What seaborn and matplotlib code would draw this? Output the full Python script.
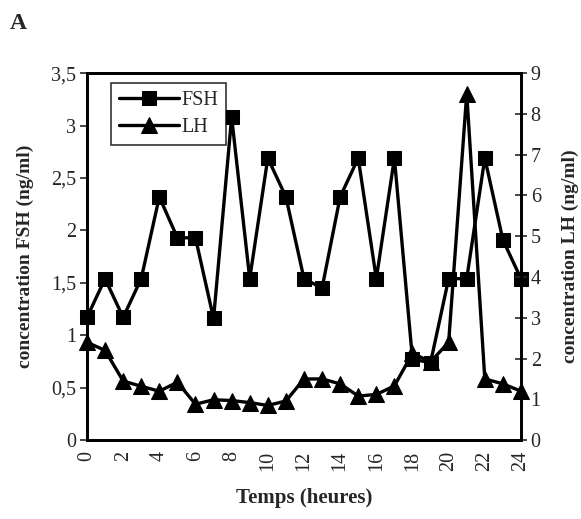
import matplotlib
matplotlib.use("Agg")
import matplotlib.pyplot as plt
import seaborn as sns
import pandas as pd

hours = list(range(25))
fsh = [1.17, 1.54, 1.17, 1.54, 2.32, 1.93, 1.93, 1.16, 3.08, 1.54, 2.69, 2.32, 1.54,
       1.45, 2.32, 2.69, 1.54, 2.69, 0.77, 0.74, 1.54, 1.54, 2.69, 1.91, 1.54]
lh = [2.4, 2.2, 1.45, 1.32, 1.2, 1.42, 0.88, 0.99, 0.97, 0.92, 0.85, 0.96, 1.5,
      1.5, 1.38, 1.08, 1.12, 1.33, 2.13, 1.92, 2.4, 8.5, 1.5, 1.38, 1.2]

fsh_ticks = [0, 0.5, 1, 1.5, 2, 2.5, 3, 3.5]
fsh_ticklabels = ["0", "0,5", "1", "1,5", "2", "2,5", "3", "3,5"]
lh_ticks = list(range(10))
x_ticks = list(range(0, 25, 2))

df = pd.DataFrame({"Temps": hours, "FSH": fsh, "LH": lh})

sns.set_style("white")
plt.rcParams["font.family"] = ["Liberation Serif", "DejaVu Serif"]

fig = plt.figure(figsize=(5.81, 5.19), dpi=100)
ax = fig.add_axes([0.1497, 0.152, 0.747, 0.707])
ax2 = ax.twinx()

sns.lineplot(data=df, x="Temps", y="FSH", ax=ax, color="black", marker="s",
             markersize=10, linewidth=2.4, markeredgecolor="black", label="FSH",
             legend=False, clip_on=False)
sns.lineplot(data=df, x="Temps", y="LH", ax=ax2, color="black", marker="^",
             markersize=11.5, linewidth=2.4, markeredgecolor="black", label="LH",
             legend=False, clip_on=False)

ax.set_xlim(0, 24)
ax.set_ylim(0, 3.5)
ax2.set_ylim(0, 9)

ax.set_xticks(x_ticks)
ax.set_xticks(hours, minor=True)
ax.set_xticklabels([str(t) for t in x_ticks], rotation=90, fontsize=14.5)
ax.set_yticks(fsh_ticks)
ax.set_yticklabels(fsh_ticklabels, fontsize=14.5)
ax2.set_yticks(lh_ticks)
ax2.set_yticklabels([str(t) for t in lh_ticks], fontsize=14.5)

ax.tick_params(axis="x", which="both", direction="inout", length=8, width=1.2, pad=4)
ax.tick_params(axis="y", direction="out", length=5, width=1.2, pad=3)
ax2.tick_params(axis="y", direction="inout", length=8, width=1.2, pad=3)

for a in (ax, ax2):
    for s in a.spines.values():
        s.set_linewidth(2)
        s.set_color("black")

ax.set_xlabel("Temps (heures)", fontsize=15, fontweight="bold", labelpad=12)
ax.set_ylabel("concentration FSH (ng/ml)", fontsize=14, fontweight="bold", labelpad=12)
ax2.set_ylabel("concentration LH (ng/ml)", fontsize=14, fontweight="bold", labelpad=15)

h1, l1 = ax.get_legend_handles_labels()
h2, l2 = ax2.get_legend_handles_labels()
leg = ax2.legend(h1 + h2, l1 + l2, loc="upper left", bbox_to_anchor=(0.055, 0.973),
                 borderaxespad=0, fontsize=14.5, frameon=True, fancybox=False,
                 edgecolor="black", handlelength=3.0, handletextpad=0.1,
                 borderpad=0.4, labelspacing=0.4)
leg.get_frame().set_linewidth(1.2)

fig.text(0.017, 0.945, "A", fontsize=17, fontweight="bold")

fig.savefig("out.png", dpi=100)
